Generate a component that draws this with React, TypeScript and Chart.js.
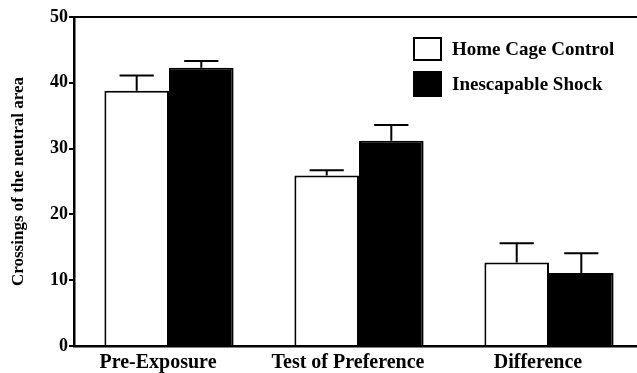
import React, { useEffect, useRef } from "react";
import { Chart, registerables } from "chart.js";

Chart.register(...registerables);

const categories = ["Pre-Exposure", "Test of Preference", "Difference"];
const homeCage = [38.8, 25.9, 12.7];
const homeCageErr = [2.3, 0.8, 2.9];
const shock = [42.3, 31.2, 11.1];
const shockErr = [1.0, 2.4, 3.0];
const seriesLabels = ["Home Cage Control", "Inescapable Shock"];
const yTicksMax = 50;
const yStep = 10;

const FONT = "'Liberation Serif', 'Times New Roman', serif";

const errorBarPlugin = {
  id: "errorBars",
  afterDatasetsDraw(chart: any) {
    const ctx = chart.ctx;
    const yScale = chart.scales.y;
    ctx.save();
    ctx.strokeStyle = "#000";
    ctx.lineWidth = 2;
    chart.data.datasets.forEach((ds: any, di: number) => {
      const meta = chart.getDatasetMeta(di);
      const errs: number[] = ds.errors || [];
      meta.data.forEach((bar: any, i: number) => {
        const v = ds.data[i];
        const e = errs[i] || 0;
        const yTop = yScale.getPixelForValue(v);
        const yErr = yScale.getPixelForValue(v + e);
        const half = (bar.width * 0.53) / 2;
        ctx.beginPath();
        ctx.moveTo(bar.x, yTop);
        ctx.lineTo(bar.x, yErr);
        ctx.moveTo(bar.x - half, yErr);
        ctx.lineTo(bar.x + half, yErr);
        ctx.stroke();
      });
    });
    ctx.restore();
  },
};

const framePlugin = {
  id: "frameTop",
  afterDraw(chart: any) {
    const { ctx, chartArea } = chart;
    ctx.save();
    ctx.strokeStyle = "#000";
    ctx.lineWidth = 2;
    ctx.beginPath();
    ctx.moveTo(chartArea.left - 1, chartArea.top);
    ctx.lineTo(chartArea.right, chartArea.top);
    ctx.stroke();
    ctx.restore();
  },
};

const legendPlugin = {
  id: "customLegend",
  afterDraw(chart: any) {
    const { ctx } = chart;
    const x0 = 414;
    const rows = [49, 84];
    ctx.save();
    ctx.font = `bold 19px ${FONT}`;
    ctx.textBaseline = "middle";
    ctx.textAlign = "left";
    chart.data.datasets.forEach((ds: any, i: number) => {
      const cy = rows[i];
      const h = i === 0 ? 22 : 24;
      if (i === 0) {
        ctx.fillStyle = "#fff";
        ctx.fillRect(x0, cy - h / 2, 27, h);
        ctx.strokeStyle = "#000";
        ctx.lineWidth = 2;
        ctx.strokeRect(x0, cy - h / 2, 27, h);
      } else {
        ctx.fillStyle = "#000";
        ctx.fillRect(x0 - 1, cy - h / 2 - 1, 29, h + 2);
      }
      ctx.fillStyle = "#000";
      ctx.fillText(ds.label, 452, cy + 1);
    });
    ctx.restore();
  },
};

export default function App() {
  const ref = useRef<HTMLCanvasElement | null>(null);

  useEffect(() => {
    if (!ref.current) return;
    const chart = new Chart(ref.current, {
      type: "bar",
      data: {
        labels: categories,
        datasets: [
          {
            label: seriesLabels[0],
            data: homeCage,
            errors: homeCageErr,
            backgroundColor: "#fff",
            borderColor: "#000",
            borderWidth: 2,
          } as any,
          {
            label: seriesLabels[1],
            data: shock,
            errors: shockErr,
            backgroundColor: "#000",
            borderColor: "#000",
            borderWidth: 2,
          } as any,
        ],
      },
      options: {
        responsive: false,
        animation: false,
        events: [],
        layout: { padding: { top: 17, right: 1, left: 0, bottom: 0 } },
        datasets: {
          bar: { categoryPercentage: 0.68, barPercentage: 1 },
        },
        plugins: {
          legend: { display: false },
          tooltip: { enabled: false },
        },
        scales: {
          x: {
            grid: { display: false, drawTicks: false },
            border: { display: true, color: "#000", width: 2.5 },
            ticks: {
              color: "#000",
              font: { family: FONT, size: 20, weight: "bold" },
              padding: 5,
              labelOffset: -11,
              maxRotation: 0,
            },
            afterFit(scale: any) {
              scale.height = 27;
            },
          },
          y: {
            min: 0,
            max: yTicksMax,
            grid: {
              drawOnChartArea: false,
              drawTicks: true,
              tickLength: 5,
              color: "#000",
              lineWidth: 2,
            },
            border: { display: true, color: "#000", width: 2.5 },
            ticks: {
              stepSize: yStep,
              color: "#000",
              padding: 1,
              font: { family: FONT, size: 18, weight: "bold" },
            },
            title: {
              display: true,
              text: "Crossings of the neutral area",
              color: "#000",
              font: { family: FONT, size: 17, weight: "bold" },
              padding: { top: 8, bottom: 0 },
            },
            afterFit(scale: any) {
              scale.width = 74;
            },
          },
        },
      } as any,
      plugins: [errorBarPlugin, framePlugin, legendPlugin],
    });
    return () => chart.destroy();
  }, []);

  return (
    <div
      style={{
        position: "fixed",
        left: 0,
        top: 0,
        width: 637,
        height: 373,
        overflow: "hidden",
        background: "#fff",
      }}
    >
      <canvas ref={ref} width={645} height={373} style={{ display: "block" }} />
    </div>
  );
}
